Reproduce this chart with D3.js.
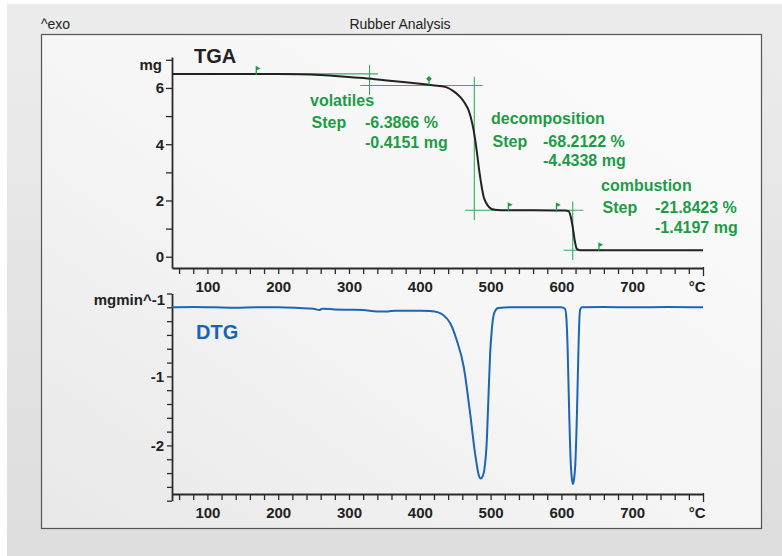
<!DOCTYPE html>
<html>
<head>
<meta charset="utf-8">
<script src="https://cdnjs.cloudflare.com/ajax/libs/d3/7.8.5/d3.min.js"></script>
<style>
    body { margin: 0; background: #fff; }
    svg text { font-family: "Liberation Sans", Arial, sans-serif; }
</style>
</head>
<body>
<svg id="chart"></svg>
<script>
// TGA curve: temperature (°C) and mass (mg)
const tgaTemp = [50, 100, 150, 200, 230, 260, 290, 320, 350, 380, 410, 425, 438, 448, 457, 463, 469, 474, 478, 481,
    484, 487, 490, 494, 498, 504, 515, 530, 560, 590, 605, 610, 613, 616, 619, 622, 626, 650, 700, 750, 800];
const tgaMass = [6.50, 6.50, 6.50, 6.50, 6.49, 6.46, 6.41, 6.35, 6.27, 6.20, 6.12, 6.08, 6.02, 5.88, 5.68, 5.48, 5.20, 4.75, 4.20, 3.65,
    3.05, 2.55, 2.15, 1.90, 1.76, 1.68, 1.655, 1.652, 1.650, 1.648, 1.645, 1.62, 1.45, 1.05, 0.55, 0.27, 0.235, 0.232, 0.231, 0.231, 0.231];

// DTG curve: temperature (°C) and rate (mg/min)
const dtgTemp = [50, 80, 110, 140, 170, 200, 230, 250, 258, 262, 280, 300, 320, 340, 355, 365, 380, 400, 415, 425,
    433, 443, 452, 462, 471, 478, 483, 486, 489, 491, 494.7, 497, 499.4, 501.5, 503.2, 506, 511, 530, 560, 600,
    605, 607, 608.7, 611, 613.4, 615, 616.3, 617.7, 619.5, 622, 624.2, 625.5, 626.6, 629, 660, 700, 750, 800];
const dtgRate = [0, 0.005, 0, -0.005, 0, 0, -0.01, -0.02, -0.04, -0.02, -0.03, -0.035, -0.04, -0.06, -0.06, -0.05, -0.05, -0.05, -0.055, -0.07,
    -0.11, -0.23, -0.47, -0.86, -1.53, -2.11, -2.42, -2.48, -2.44, -2.36, -1.92, -1.29, -0.66, -0.35, -0.18, -0.06, -0.01, 0, 0, 0,
    -0.02, -0.15, -0.56, -1.53, -2.3, -2.5, -2.56, -2.5, -2.3, -1.53, -0.56, -0.15, -0.03, 0, 0.005, 0, 0.005, 0];

// axis labels
const xLabelValues = [100, 200, 300, 400, 500, 600, 700];
const tgaLabelValues = [0, 2, 4, 6];
const dtgLabelValues = [-1, -2];

// step evaluation
const stepNames = ["volatiles", "decomposition", "combustion"];
const stepPercent = ["-6.3866 %", "-68.2122 %", "-21.8423 %"];
const stepMg = ["-0.4151 mg", "-4.4338 mg", "-1.4197 mg"];
const stepTemp = [329, 477, 616];               // inflection (vertical tangent)
const levelMass = [6.5, 6.085, 1.651, 0.231];   // plateaus between steps
const limitTemp = [169, 413, 525, 593, 653];    // evaluation limit markers

let width = 782;
let height = 556;

let svg = d3.select("#chart")
    .attr("width", width)
    .attr("height", height);

let defs = svg.append("defs");

let outerGrad = defs.append("linearGradient")
    .attr("id", "outerGrad")
    .attr("x1", 0).attr("y1", 0).attr("x2", 0).attr("y2", 1);
outerGrad.append("stop").attr("offset", "0%").attr("stop-color", "#ececec");
outerGrad.append("stop").attr("offset", "100%").attr("stop-color", "#dddddd");

let innerGrad = defs.append("linearGradient")
    .attr("id", "innerGrad")
    .attr("x1", 1).attr("y1", 0).attr("x2", 0).attr("y2", 1);
innerGrad.append("stop").attr("offset", "0%").attr("stop-color", "#fbfbfb");
innerGrad.append("stop").attr("offset", "50%").attr("stop-color", "#f6f6f6");
innerGrad.append("stop").attr("offset", "100%").attr("stop-color", "#e8e8e8");

// background
svg.append("rect").attr("width", width).attr("height", height).attr("fill", "#fff");
svg.append("rect")
    .attr("x", 7).attr("y", 4)
    .attr("width", width - 7).attr("height", height - 4)
    .attr("fill", "url(#outerGrad)");

svg.append("rect")
    .attr("x", 41.5).attr("y", 34.5)
    .attr("width", 720).attr("height", 494)
    .attr("fill", "url(#innerGrad)")
    .attr("stroke", "#555")
    .attr("stroke-width", 1.2);

// header texts
svg.append("text")
    .attr("x", 41).attr("y", 29)
    .attr("font-size", 14)
    .attr("fill", "#222")
    .text("^exo");

svg.append("text")
    .attr("x", 400).attr("y", 29)
    .attr("text-anchor", "middle")
    .attr("font-size", 14)
    .attr("fill", "#222")
    .text("Rubber Analysis");

// scales
let x = d3.scaleLinear().domain([50, 800]).range([172, 703]);
let yTga = d3.scaleLinear().domain([-0.4, 7.1]).range([268, 57]);
let yDtg = d3.scaleLinear().domain([-2.8, 0.2]).range([500.7, 293.5]);

const axisColor = "#2a2a2a";
const green = "#1d9c46";
const greenLine = "#3aab5c";

function xAxis() {
    return d3.axisBottom(x)
        .tickValues(d3.range(60, 801, 20))
        .tickSize(6)
        .tickSizeOuter(0)
        .tickPadding(7)
        .tickFormat(d => xLabelValues.includes(d) ? d : (d === 800 ? "°C" : ""));
}

function styleAxis(g) {
    g.attr("font-family", null).attr("font-size", null);
    g.select(".domain").attr("stroke", axisColor).attr("stroke-width", 1.8);
    g.selectAll(".tick line").attr("stroke", axisColor).attr("stroke-width", 1.3);
    g.selectAll(".tick text")
        .attr("fill", "#222")
        .attr("font-size", 15)
        .attr("font-weight", "bold");
}

function finishXAxis(g) {
    styleAxis(g);
    let end = g.selectAll(".tick").filter(d => d === 800);
    end.select("line").attr("y1", -1).attr("y2", 8);
    end.select("text").attr("text-anchor", "end").attr("x", 2);
}

// TGA axes
svg.append("g")
    .attr("transform", "translate(0,268)")
    .call(xAxis())
    .call(finishXAxis);

svg.append("g")
    .attr("transform", "translate(172,0)")
    .call(d3.axisLeft(yTga)
        .tickValues(d3.range(0, 8))
        .tickSize(6)
        .tickSizeOuter(0)
        .tickPadding(2)
        .tickFormat(d => tgaLabelValues.includes(d) ? d : ""))
    .call(styleAxis);

svg.append("text")
    .attr("x", 162).attr("y", 70)
    .attr("text-anchor", "end")
    .attr("font-size", 15)
    .attr("font-weight", "bold")
    .attr("fill", "#222")
    .text("mg");

svg.append("text")
    .attr("x", 194).attr("y", 62.5)
    .attr("font-size", 20)
    .attr("font-weight", "bold")
    .attr("fill", "#222")
    .text("TGA");

// DTG axes
svg.append("g")
    .attr("transform", "translate(0,494)")
    .call(xAxis())
    .call(finishXAxis);

svg.append("g")
    .attr("transform", "translate(172,0)")
    .call(d3.axisLeft(yDtg)
        .tickValues(d3.range(-14, 2).map(i => i / 5))
        .tickSize(5)
        .tickSizeOuter(0)
        .tickPadding(3)
        .tickFormat(d => dtgLabelValues.some(v => Math.abs(v - d) < 1e-6) ? String(Math.round(d)) : ""))
    .call(styleAxis);

svg.append("text")
    .attr("x", 165).attr("y", 305)
    .attr("text-anchor", "end")
    .attr("font-size", 15)
    .attr("font-weight", "bold")
    .attr("fill", "#222")
    .text("mgmin^-1");

svg.append("text")
    .attr("x", 196).attr("y", 338.5)
    .attr("font-size", 20)
    .attr("font-weight", "bold")
    .attr("fill", "#1565b4")
    .text("DTG");

// construction lines of the step evaluation
let construct = svg.append("g")
    .attr("stroke", greenLine)
    .attr("stroke-width", 1.1)
    .attr("fill", "none");

function hLine(mass, t0, t1) {
    construct.append("line")
        .attr("x1", x(t0)).attr("x2", x(t1))
        .attr("y1", yTga(mass)).attr("y2", yTga(mass));
}

function vLine(t, m0, m1) {
    construct.append("line")
        .attr("x1", x(t)).attr("x2", x(t))
        .attr("y1", yTga(m0)).attr("y2", yTga(m1));
}

hLine(levelMass[0], limitTemp[0], 341);
hLine(levelMass[1], 316, 489);
hLine(levelMass[2], 464, 631);
hLine(levelMass[3], 603, 660);
vLine(stepTemp[0], 6.82, 5.75);
vLine(stepTemp[1], 6.4, 1.31);
vLine(stepTemp[2], 1.96, -0.12);

// curves
let tgaLine = d3.line()
    .x(d => x(d[0]))
    .y(d => yTga(d[1]))
    .curve(d3.curveMonotoneX);

let dtgLine = d3.line()
    .x(d => x(d[0]))
    .y(d => yDtg(d[1]))
    .curve(d3.curveMonotoneX);

svg.append("path")
    .datum(d3.zip(tgaTemp, tgaMass))
    .attr("fill", "none")
    .attr("stroke", "#222")
    .attr("stroke-width", 2)
    .attr("d", tgaLine);

svg.append("path")
    .datum(d3.zip(dtgTemp, dtgRate))
    .attr("fill", "none")
    .attr("stroke", "#1c66b5")
    .attr("stroke-width", 2)
    .attr("d", dtgLine);

// limit markers (small flags sitting on the TGA curve)
let massAt = t => {
    let i = d3.bisectLeft(tgaTemp, t);
    if (i <= 0) return tgaMass[0];
    let t0 = tgaTemp[i - 1], t1 = tgaTemp[i];
    return tgaMass[i - 1] + (tgaMass[i] - tgaMass[i - 1]) * (t - t0) / (t1 - t0);
};

svg.append("g")
    .selectAll("path")
    .data(limitTemp)
    .enter()
    .append("path")
    .attr("transform", d => "translate(" + x(d) + "," + yTga(massAt(d)) + ")")
    .attr("d", (d, i) => i === 1
        ? "M0,0V-6M-2,-6L0,-8L2,-6L0,-4Z"
        : "M0,1V-7M0,-7L3,-5.5L0,-4Z")
    .attr("stroke", green)
    .attr("stroke-width", 1.2)
    .attr("fill", green);

// step annotations
const stepPos = [
    { x: 310, y: 105.5, num: 365 },
    { x: 491, y: 124, num: 543 },
    { x: 601, y: 190.5, num: 655 }
];

let notes = svg.append("g")
    .attr("fill", green)
    .attr("font-size", 16)
    .attr("font-weight", "bold");

stepNames.forEach((name, i) => {
    let p = stepPos[i];
    notes.append("text").attr("x", p.x).attr("y", p.y).text(name);
    notes.append("text").attr("x", p.x + 1.5).attr("y", p.y + 22.5).text("Step");
    notes.append("text").attr("x", p.num).attr("y", p.y + 22.5).text(stepPercent[i]);
    notes.append("text").attr("x", p.num).attr("y", p.y + 42).text(stepMg[i]);
});
</script>
</body>
</html>
